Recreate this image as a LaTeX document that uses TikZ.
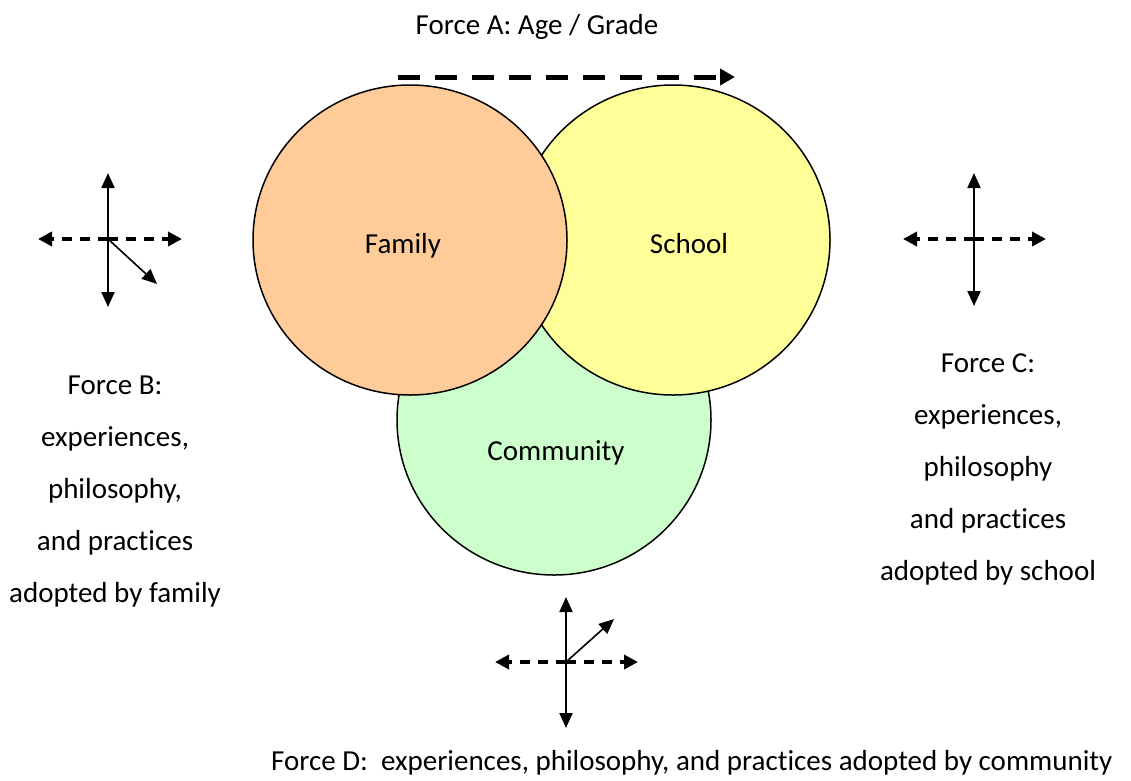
\documentclass[tikz,border=0pt]{standalone}
\usepackage{fontspec}
\setmainfont{Carlito}[Ligatures={NoCommon}]
\usetikzlibrary{arrows.meta,shapes.geometric}
\definecolor{famfill}{HTML}{FFCC99}
\definecolor{schfill}{HTML}{FFFF99}
\definecolor{comfill}{HTML}{CCFFCC}
\begin{document}
\begin{tikzpicture}[x=1pt,y=-1pt,
  circ/.style={ellipse, draw=black, line width=1.5pt, minimum width=314pt, minimum height=310pt, inner sep=0pt},
  lbl/.style={font=\fontsize{29}{52}\selectfont, inner sep=0pt, align=center},
  solidarr/.style={line width=2pt, -{Triangle[length=15pt,width=13pt]}},
  diagarr/.style={line width=1.6pt, -{Triangle[length=15pt,width=13pt]}},
  dasharr/.style={line width=4pt, dash pattern=on 10pt off 8pt, -{Triangle[length=14pt,width=14pt]}},
  bigdash/.style={line width=5pt, dash pattern=on 22pt off 15pt, -{Triangle[length=15pt,width=16pt]}}
]
\useasboundingbox (0,0) rectangle (1131,780);
% circles
\node[circ, fill=comfill] (community) at (554,420) {};
\node[circ, fill=schfill] (school) at (673,240) {};
\node[circ, fill=famfill] (family) at (410,240) {};
\node[lbl, anchor=base] (famlabel) at (403,253) {Family};
\node[lbl, anchor=base] (schlabel) at (689,253) {School};
\node[lbl, anchor=base] (comlabel) at (556,460) {Community};
% Force A
\node[lbl, anchor=base] (forceA) at (537,34) {Force A: Age / Grade};
\coordinate (aS) at (398,77);
\coordinate (aE) at (735,77);
\draw[bigdash] (aS) -- (aE);
% left cluster
\coordinate (lc) at (108,239);
\coordinate (lu) at (108,173);
\coordinate (ld) at (108,307);
\coordinate (ll) at (38,239);
\coordinate (lr) at (182,239);
\coordinate (lg) at (157,284);
\draw[solidarr] (lc) -- (lu);
\draw[solidarr] (lc) -- (ld);
\draw[dasharr] (lc) -- (ll);
\draw[dasharr] (lc) -- (lr);
\draw[diagarr] (lc) -- (lg);
% right cluster
\coordinate (rc) at (974,239);
\coordinate (ru) at (974,173);
\coordinate (rd) at (974,306);
\coordinate (rl) at (903,239);
\coordinate (rr) at (1046,239);
\draw[solidarr] (rc) -- (ru);
\draw[solidarr] (rc) -- (rd);
\draw[dasharr] (rc) -- (rl);
\draw[dasharr] (rc) -- (rr);
% bottom cluster
\coordinate (bc) at (566,662);
\coordinate (bu) at (566,597);
\coordinate (bd) at (566,728);
\coordinate (bl) at (495,662);
\coordinate (br) at (638,662);
\coordinate (bg) at (614,619);
\draw[solidarr] (bc) -- (bu);
\draw[solidarr] (bc) -- (bd);
\draw[dasharr] (bc) -- (bl);
\draw[dasharr] (bc) -- (br);
\draw[diagarr] (bc) -- (bg);
% texts
\node[lbl, anchor=north] (forceB) at (115,376) {Force B:\\experiences,\\philosophy,\\and practices\\adopted by family};
\node[lbl, anchor=north] (forceC) at (988,353) {Force C:\\experiences,\\philosophy\\and practices\\adopted by school};
\node[lbl, anchor=base west] (forceD) at (271,770) {Force D:\ \ experiences, philosophy, and practices adopted by community};
\end{tikzpicture}
\end{document}
